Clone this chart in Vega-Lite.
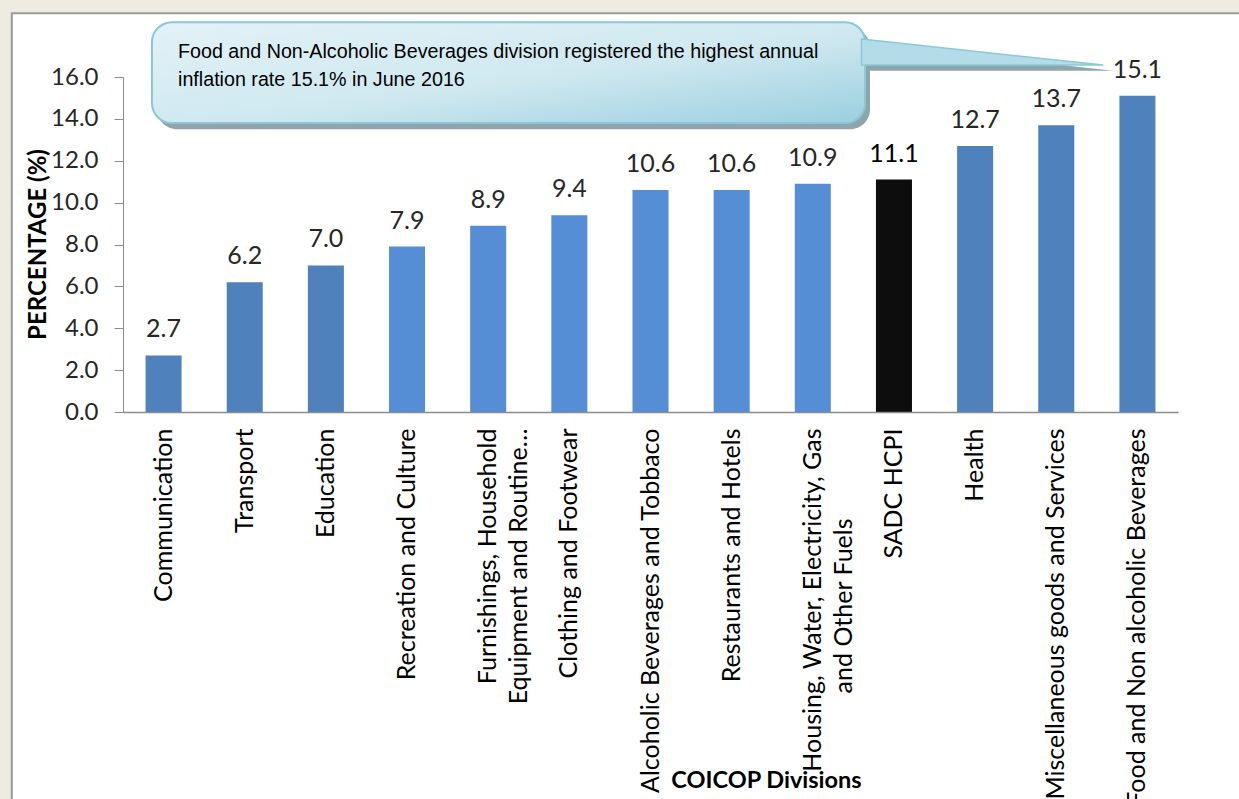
{
  "$schema": "https://vega.github.io/schema/vega-lite/v6.json",
  "width": 1055,
  "height": 335,
  "autosize": {"type": "none"},
  "padding": {"left": 123, "top": 77, "right": 61, "bottom": 387},
  "background": "#EEEBE0",
  "config": {"view": {"stroke": null}, "font": "Lato"},
  "datasets": {
    "bars": [
      {"division": "Communication", "value": 2.7, "group": "dark"},
      {"division": "Transport", "value": 6.2, "group": "dark"},
      {"division": "Education", "value": 7.0, "group": "dark"},
      {"division": "Recreation and Culture", "value": 7.9, "group": "light"},
      {"division": "Furnishings, Household\nEquipment and Routine…", "value": 8.9, "group": "light"},
      {"division": "Clothing and Footwear", "value": 9.4, "group": "light"},
      {"division": "Alcoholic Beverages and Tobbaco", "value": 10.6, "group": "light"},
      {"division": "Restaurants and Hotels", "value": 10.6, "group": "light"},
      {"division": "Housing, Water, Electricity, Gas\nand Other Fuels", "value": 10.9, "group": "light"},
      {"division": "SADC HCPI", "value": 11.1, "group": "sadc"},
      {"division": "Health", "value": 12.7, "group": "dark"},
      {"division": "Miscellaneous goods and Services", "value": 13.7, "group": "dark"},
      {"division": "Food and Non alcoholic Beverages", "value": 15.1, "group": "dark"}
    ],
    "panel": [{"x": -1.37, "x2": 14.5, "y": 19.05, "y2": -19}],
    "box": [{"x": 0.357, "x2": 9.144, "y": 18.62, "y2": 13.8}],
    "boxShadow": [{"x": 0.42, "x2": 9.205, "y": 18.35, "y2": 13.5}],
    "pointer": [{"x": 9.1, "y": 17.81, "y2": 16.57}, {"x": 12.08, "y": 16.57, "y2": 16.57}],
    "pointerShadow": [{"x": 9.15, "y": 17.6, "y2": 16.3}, {"x": 12.2, "y": 16.3, "y2": 16.3}],
    "note": [
      {"x": 0.678, "y": 17.19, "t": "Food and Non-Alcoholic Beverages division registered the highest annual"},
      {"x": 0.678, "y": 15.85, "t": "inflation rate 15.1% in June 2016"}
    ]
  },
  "layer": [
    {
      "data": {"name": "panel"},
      "mark": {"type": "rect", "fill": "#FFFFFF", "stroke": "#9A9A9A", "strokeWidth": 2},
      "encoding": {
        "x": {"field": "x", "type": "quantitative", "scale": {"domain": [0, 13]}, "axis": null},
        "x2": {"field": "x2"},
        "y": {"field": "y", "type": "quantitative", "scale": {"domain": [0, 16]}},
        "y2": {"field": "y2"}
      }
    },
    {
      "data": {"name": "bars"},
      "layer": [
        {
          "mark": {"type": "bar"},
          "encoding": {
            "x": {
              "field": "division", "type": "nominal", "sort": null,
              "scale": {"paddingInner": 0.556, "paddingOuter": 0.278},
              "axis": {
                "zindex": 1,
                "title": "COICOP Divisions",
                "titleFont": "Lato", "titleFontSize": 23.5, "titleFontWeight": "bold", "titleColor": "#000000",
                "titleX": 643, "titleY": 375, "titleAlign": "center", "titleBaseline": "alphabetic",
                "labelAngle": -90, "labelFont": "Lato", "labelFontSize": 25, "labelColor": "#000000",
                "labelPadding": 16, "labelLimit": 600, "labelLineHeight": 31,
                "labelExpr": "indexof(datum.label, 'Other Fuels') >= 0 ? [split(datum.label, '\\n')[0], split(datum.label, '\\n')[1] + '\u2800\u2800\u2800\u2800\u2800'] : split(datum.label, '\\n')",
                "ticks": false, "domainColor": "#8C8C8C", "domainWidth": 1.5
              }
            },
            "y": {
              "field": "value", "type": "quantitative",
              "scale": {"domain": [0, 16]},
              "axis": {
                "zindex": 1,
                "title": "PERCENTAGE (%)",
                "titleFont": "Lato", "titleFontSize": 24, "titleFontWeight": "bold", "titleColor": "#000000",
                "titleX": -85, "titleY": 167, "titleBaseline": "middle",
                "values": [0, 2, 4, 6, 8, 10, 12, 14, 16], "format": ".1f",
                "labelFont": "Lato", "labelFontSize": 24, "labelColor": "#262626", "labelPadding": 16,
                "tickSize": 9, "tickColor": "#8C8C8C", "domainColor": "#8C8C8C", "grid": false
              }
            },
            "color": {
              "field": "group", "type": "nominal",
              "scale": {"domain": ["dark", "light", "sadc"], "range": ["#4F81BD", "#558ED5", "#0D0D0D"]},
              "legend": null
            }
          }
        },
        {
          "mark": {"type": "text", "font": "Lato", "fontSize": 25, "baseline": "alphabetic", "dy": -18},
          "encoding": {
            "x": {"field": "division", "type": "nominal", "sort": null},
            "y": {"field": "value", "type": "quantitative", "scale": {"domain": [0, 16]}},
            "text": {"field": "value", "type": "quantitative", "format": ".1f"},
            "fontWeight": {"condition": {"test": "datum.group === 'sadc'", "value": "bold"}, "value": "normal"},
            "color": {"condition": {"test": "datum.group === 'sadc'", "value": "#000000"}, "value": "#262626"}
          }
        }
      ]
    },
    {
      "layer": [
        {
          "data": {"name": "pointerShadow"},
          "mark": {"type": "area", "color": "#8FA5AB", "orient": "vertical"},
          "encoding": {
            "x": {"field": "x", "type": "quantitative", "scale": {"domain": [0, 13]}, "axis": null},
            "y": {"field": "y", "type": "quantitative", "scale": {"domain": [0, 16]}},
            "y2": {"field": "y2"}
          }
        },
        {
          "data": {"name": "boxShadow"},
          "mark": {"type": "rect", "fill": "#8FA5AB", "cornerRadius": 20},
          "encoding": {
            "x": {"field": "x", "type": "quantitative", "scale": {"domain": [0, 13]}, "axis": null},
            "x2": {"field": "x2"},
            "y": {"field": "y", "type": "quantitative", "scale": {"domain": [0, 16]}},
            "y2": {"field": "y2"}
          }
        },
        {
          "data": {"name": "box"},
          "mark": {
            "type": "rect", "cornerRadius": 20, "stroke": "#8CC7D9", "strokeWidth": 2,
            "fill": {"gradient": "linear", "x1": 0, "y1": 0, "x2": 1, "y2": 1,
              "stops": [{"offset": 0, "color": "#E3F2F7"}, {"offset": 0.55, "color": "#CFE8F0"}, {"offset": 1, "color": "#9ACFDF"}]}
          },
          "encoding": {
            "x": {"field": "x", "type": "quantitative", "scale": {"domain": [0, 13]}, "axis": null},
            "x2": {"field": "x2"},
            "y": {"field": "y", "type": "quantitative", "scale": {"domain": [0, 16]}},
            "y2": {"field": "y2"}
          }
        },
        {
          "data": {"name": "pointer"},
          "mark": {"type": "area", "color": "#B3DCE8", "stroke": "#8CC7D9", "strokeWidth": 1.5, "orient": "vertical"},
          "encoding": {
            "x": {"field": "x", "type": "quantitative", "scale": {"domain": [0, 13]}, "axis": null},
            "y": {"field": "y", "type": "quantitative", "scale": {"domain": [0, 16]}},
            "y2": {"field": "y2"}
          }
        },
        {
          "data": {"name": "note"},
          "mark": {"type": "text", "font": "Liberation Sans", "fontSize": 19.7, "align": "left", "baseline": "middle", "color": "#000000"},
          "encoding": {
            "x": {"field": "x", "type": "quantitative", "scale": {"domain": [0, 13]}, "axis": null},
            "y": {"field": "y", "type": "quantitative", "scale": {"domain": [0, 16]}},
            "text": {"field": "t"}
          }
        }
      ]
    }
  ],
  "resolve": {"scale": {"x": "independent"}}
}
